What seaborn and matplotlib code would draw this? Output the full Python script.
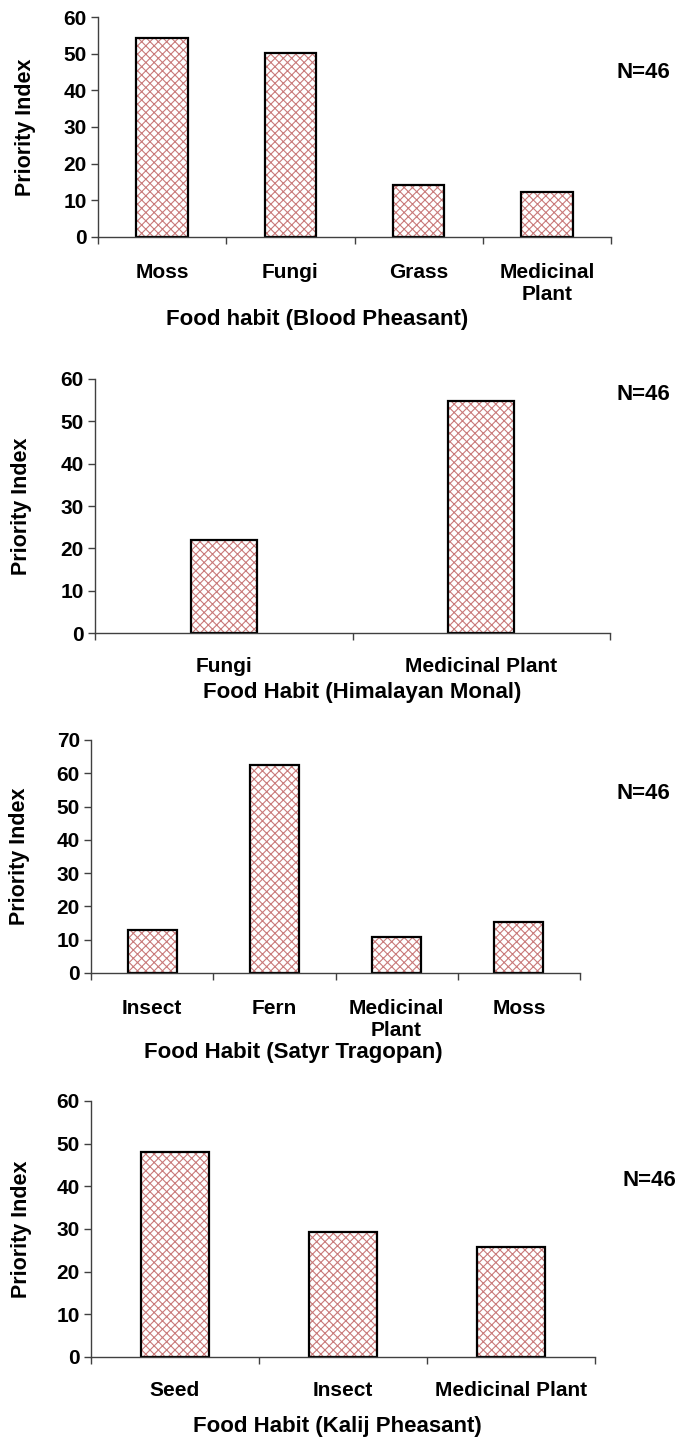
import matplotlib
matplotlib.use("Agg")
import matplotlib.pyplot as plt
import seaborn as sns
from matplotlib.ticker import FixedLocator, MultipleLocator

# datos de cada panel
blood_cats = ["Moss", "Fungi", "Grass", "Medicinal\nPlant"]
blood_vals = [54.2, 50.2, 14.1, 12.4]

monal_cats = ["Fungi", "Medicinal Plant"]
monal_vals = [21.9, 54.7]

satyr_cats = ["Insect", "Fern", "Medicinal\nPlant", "Moss"]
satyr_vals = [13.0, 62.4, 10.7, 15.2]

kalij_cats = ["Seed", "Insect", "Medicinal Plant"]
kalij_vals = [48.0, 29.2, 25.8]

xlabels = ["Food habit (Blood Pheasant)", "Food Habit (Himalayan Monal)",
           "Food Habit (Satyr Tragopan)", "Food Habit (Kalij Pheasant)"]
ymax = [60, 60, 70, 60]
n_text = "N=46"

sns.set_theme(style="ticks")
plt.rcParams["font.family"] = ["Liberation Sans", "DejaVu Sans"]
plt.rcParams["font.weight"] = "bold"
plt.rcParams["text.color"] = "black"
plt.rcParams["axes.labelcolor"] = "black"
plt.rcParams["xtick.labelcolor"] = "black"
plt.rcParams["ytick.labelcolor"] = "black"
plt.rcParams["hatch.linewidth"] = 0.8
hatch_col = "#c97a7a"
plt.rcParams["hatch.color"] = hatch_col

W, H = 678, 1443
fig = plt.figure(figsize=(W / 100, H / 100), dpi=100)

# cajas de cada eje en pixeles: izquierda, arriba, derecha, abajo
boxes = [(98, 17, 611, 237), (95, 379, 610, 633), (91, 740, 580, 973), (91, 1101, 595, 1357)]
widths = [0.4, 0.256, 0.4, 0.4]
tick_pad = [19, 17, 18.5, 17]
xlab_pos = [(0.427, -0.377), (0.518, -0.236), (0.413, -0.343), (0.488, -0.27)]
ylab_x = [25, 22, 20, 22]
n_pos = [(616, 72), (616, 395), (616, 793), (623, 1181)]

data = [(blood_cats, blood_vals), (monal_cats, monal_vals),
        (satyr_cats, satyr_vals), (kalij_cats, kalij_vals)]

for i, (cats, vals) in enumerate(data):
    l, t, r, b = boxes[i]
    ax = fig.add_axes([l / W, 1 - b / H, (r - l) / W, (b - t) / H])

    # relleno con trama
    sns.barplot(x=cats, y=vals, ax=ax, color="white", edgecolor=hatch_col,
                linewidth=0, width=widths[i], errorbar=None, saturation=1)
    for p in ax.patches:
        p.set_hatch("xxxx")
    # contorno negro
    sns.barplot(x=cats, y=vals, ax=ax, fill=False, color="black",
                linewidth=1.6, width=widths[i], errorbar=None)

    n = len(cats)
    ax.set_xlim(-0.5, n - 0.5)
    ax.set_ylim(0, ymax[i])
    ax.yaxis.set_major_locator(MultipleLocator(10))
    ax.xaxis.set_minor_locator(FixedLocator([k - 0.5 for k in range(n + 1)]))

    for s in ["top", "right"]:
        ax.spines[s].set_visible(False)
    for s in ["left", "bottom"]:
        ax.spines[s].set_color("#404040")
        ax.spines[s].set_linewidth(1.0)

    ax.tick_params(axis="y", length=5, width=1, color="#404040", labelsize=15, pad=3)
    ax.tick_params(axis="x", which="major", length=0, labelsize=15, pad=tick_pad[i])
    ax.tick_params(axis="x", which="minor", length=5, width=1, color="#404040")
    for lab in ax.get_xticklabels() + ax.get_yticklabels():
        lab.set_fontweight("bold")
        lab.set_color("black")

    ax.set_xlabel(xlabels[i], fontsize=16, fontweight="bold", va="center", color="black")
    ax.xaxis.set_label_coords(*xlab_pos[i])
    ax.set_ylabel("Priority Index", fontsize=15.5, fontweight="bold", va="center", color="black")
    ax.yaxis.set_label_coords((ylab_x[i] - l) / (r - l), 0.5)

    fig.text(n_pos[i][0] / W, 1 - n_pos[i][1] / H, n_text, fontsize=16,
             fontweight="bold", va="center", ha="left", color="black")

fig.savefig("out.png", dpi=100)
